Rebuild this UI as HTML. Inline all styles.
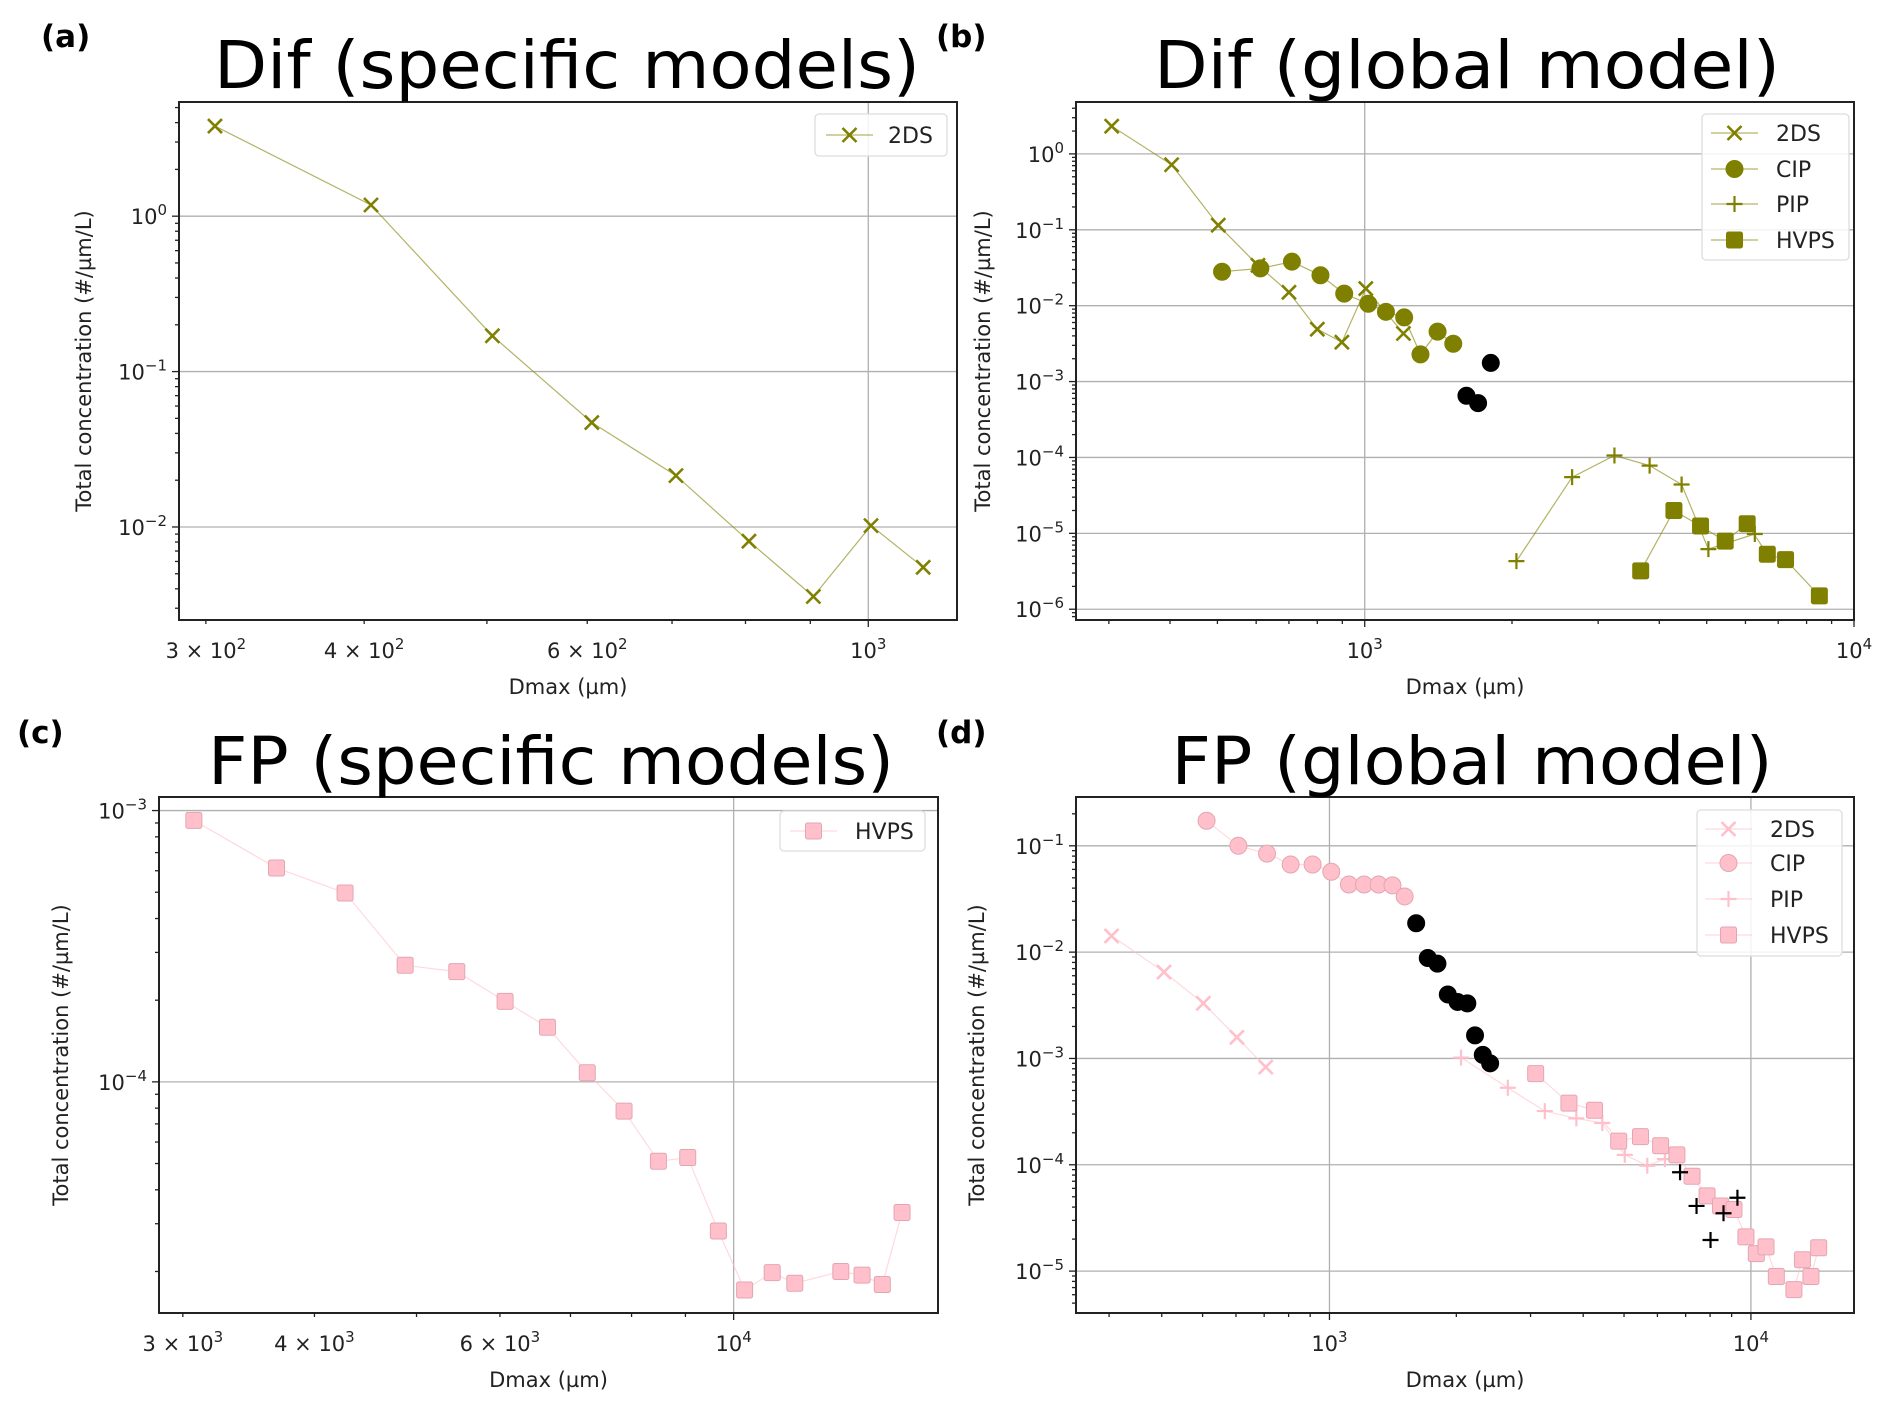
<!DOCTYPE html>
<html><head><meta charset="utf-8"><style>
html,body{margin:0;padding:0;background:#fff;}
svg{display:block;font-family:"DejaVu Sans","Liberation Sans",sans-serif;}
</style></head><body>
<svg id="fig" width="1892" height="1415" viewBox="0 0 1892 1415" xmlns="http://www.w3.org/2000/svg"></svg>
<script>
// ---- Panel (a): Dif specific, 2DS
const A_2ds_x=[305,405,505,605,705,805,905,1005,1105];
const A_2ds_y=[3.8,1.18,0.17,0.047,0.0214,0.0081,0.00357,0.0102,0.0055];
const A_xticks=[300,400,600,1000];
const A_xtickLabels=["3 × 10^2","4 × 10^2","6 × 10^2","10^3"];
const A_yticks=[1,0.1,0.01];
const A_ytickLabels=["10^0","10^−1","10^−2"];
// ---- Panel (b): Dif global
const B_2ds_x=[304,403,502,605,700,800,898,1005,1200];
const B_2ds_y=[2.32,0.72,0.115,0.034,0.015,0.0049,0.0033,0.0168,0.0043];
const B_cip_x=[511,612,710,812,908,1017,1105,1204,1300,1409,1517];
const B_cip_y=[0.028,0.031,0.038,0.0252,0.0144,0.0106,0.0083,0.0070,0.00228,0.00455,0.00315];
const B_cipOut_x=[1614,1705,1810];
const B_cipOut_y=[6.5e-4,5.2e-4,1.76e-3];
const B_pip_x=[2042,2654,3239,3822,4443,5040,6270];
const B_pip_y=[4.3e-6,5.5e-5,1.06e-4,7.8e-5,4.4e-5,6.2e-6,9.8e-6];
const B_hvps_x=[3665,4285,4857,5455,6049,6650,7246,8496];
const B_hvps_y=[3.2e-6,2.0e-5,1.25e-5,7.9e-6,1.34e-5,5.3e-6,4.5e-6,1.5e-6];
const B_xticks=[1000,10000];
const B_xtickLabels=["10^3","10^4"];
const B_yticks=[1,0.1,0.01,1e-3,1e-4,1e-5,1e-6];
const B_ytickLabels=["10^0","10^−1","10^−2","10^−3","10^−4","10^−5","10^−6"];
// ---- Panel (c): FP specific, HVPS
const C_hvps_x=[3073,3682,4277,4877,5460,6068,6657,7262,7870,8484,9045,9672,10243,10880,11430,12640,13240,13840,14450];
const C_hvps_y=[9.2e-4,6.14e-4,4.97e-4,2.69e-4,2.55e-4,1.98e-4,1.59e-4,1.08e-4,7.8e-5,5.1e-5,5.26e-5,2.82e-5,1.71e-5,1.98e-5,1.81e-5,2.0e-5,1.94e-5,1.79e-5,3.3e-5];
const C_xticks=[3000,4000,6000,10000];
const C_xtickLabels=["3 × 10^3","4 × 10^3","6 × 10^3","10^4"];
const C_yticks=[1e-3,1e-4];
const C_ytickLabels=["10^−3","10^−4"];
// ---- Panel (d): FP global
const D_2ds_x=[304,405,502,603,706];
const D_2ds_y=[0.0142,0.0065,0.0033,0.00158,8.3e-4];
const D_cip_x=[511,608,711,809,912,1010,1112,1208,1308,1411,1508];
const D_cip_y=[0.172,0.1,0.0845,0.0667,0.0667,0.057,0.0433,0.0433,0.0433,0.0424,0.0334];
const D_cipOut_x=[1606,1711,1804,1909,2014,2124,2215,2311,2406];
const D_cipOut_y=[0.0187,0.0088,0.0078,0.0040,0.0034,0.0033,0.00165,0.00108,9.0e-4];
const D_pip_x=[2052,2650,3243,3853,4440,5020,5677,6250];
const D_pip_y=[1.02e-3,5.3e-4,3.2e-4,2.73e-4,2.47e-4,1.24e-4,9.8e-5,1.13e-4];
const D_pipOut_x=[6790,7430,8020,8610,9290];
const D_pipOut_y=[8.5e-5,4.1e-5,1.96e-5,3.5e-5,4.9e-5];
const D_hvps_x=[3085,3700,4254,4856,5470,6105,6675,7250,7870,8470,9116,9732,10300,10860,11490,12650,13250,13880,14480];
const D_hvps_y=[7.2e-4,3.8e-4,3.26e-4,1.67e-4,1.84e-4,1.51e-4,1.24e-4,7.8e-5,5.1e-5,4.1e-5,3.8e-5,2.1e-5,1.46e-5,1.69e-5,8.9e-6,6.7e-6,1.28e-5,8.9e-6,1.66e-5];
const D_xticks=[1000,10000];
const D_xtickLabels=["10^3","10^4"];
const D_yticks=[0.1,0.01,1e-3,1e-4,1e-5];
const D_ytickLabels=["10^−1","10^−2","10^−3","10^−4","10^−5"];

const NS="http://www.w3.org/2000/svg";
const svg=document.getElementById('fig');
const OLIVE="#808000", PINK="#ffc0cb", PINKEDGE="#e3a6b1";

function mk(tag,attrs,parent){const e=document.createElementNS(NS,tag);for(const k in attrs)e.setAttribute(k,attrs[k]);(parent||svg).appendChild(e);return e;}
function richText(parent,x,y,str,size,anchor){
  const t=mk('text',{x:x,y:y,'font-size':size,'text-anchor':anchor,fill:'#222'},parent);
  const parts=str.split('^');
  t.appendChild(document.createTextNode(parts[0]));
  if(parts[1]!==undefined){const s=mk('tspan',{dy:-9,'font-size':Math.round(size*0.7)},t);s.textContent=parts[1];}
  return t;
}
function marker(g,type,x,y,color,edge){
  let e;
  if(type==='x'){e=mk('path',{d:`M${x-7},${y-7}L${x+7},${y+7}M${x-7},${y+7}L${x+7},${y-7}`,stroke:color,'stroke-width':2.6,fill:'none'},g);}
  else if(type==='+'){e=mk('path',{d:`M${x-8},${y}L${x+8},${y}M${x},${y-8}L${x},${y+8}`,stroke:color,'stroke-width':2.2,fill:'none'},g);}
  else if(type==='o'){e=mk('circle',{cx:x,cy:y,r:8.5,fill:color,stroke:edge||color,'stroke-width':1},g);}
  else {e=mk('rect',{x:x-8,y:y-8,width:16,height:16,rx:2,fill:color,stroke:edge||color,'stroke-width':1},g);}
  return e;
}
function panel(cfg){
  const g=mk('g',{});
  
  
  const {L,R,T,B}=cfg;
  const lx0=Math.log10(cfg.xmin),lx1=Math.log10(cfg.xmax),ly0=Math.log10(cfg.ymin),ly1=Math.log10(cfg.ymax);
  const X=v=>L+(Math.log10(v)-lx0)/(lx1-lx0)*(R-L);
  const Y=v=>B-(Math.log10(v)-ly0)/(ly1-ly0)*(B-T);
  const grid=mk('g',{},g);
  
  
  for(let d=Math.floor(lx0);d<=Math.ceil(lx1);d++){const v=Math.pow(10,d);if(v>cfg.xmin&&v<cfg.xmax)mk('line',{x1:X(v),x2:X(v),y1:T,y2:B,stroke:'#b0b0b0','stroke-width':1.3},grid);}
  for(let d=Math.floor(ly0);d<=Math.ceil(ly1);d++){const v=Math.pow(10,d);if(v>cfg.ymin&&v<cfg.ymax)mk('line',{x1:L,x2:R,y1:Y(v),y2:Y(v),stroke:'#b0b0b0','stroke-width':1.3},grid);}
  cfg.series.forEach(s=>{
    const sg=mk('g',{},g);
    
    
    if(s.line){const pts=s.xs.map((v,i)=>X(v).toFixed(1)+','+Y(s.ys[i]).toFixed(1)).join(' ');mk('polyline',{points:pts,fill:'none',stroke:s.color,'stroke-width':1.2,'stroke-opacity':0.6},sg);}
    s.xs.forEach((v,i)=>{const m=marker(sg,s.marker,X(v),Y(s.ys[i]),s.color,s.edge);
      
      });
  });
  const ax=mk('g',{stroke:'#222','stroke-width':1.3},g);
  
  
  for(let d=Math.floor(lx0);d<=Math.ceil(lx1);d++)for(let k=1;k<10;k++){const v=k*Math.pow(10,d);if(v>=cfg.xmin&&v<=cfg.xmax){const len=k===1?7:4;mk('line',{x1:X(v),x2:X(v),y1:B,y2:B+len},ax);}}
  for(let d=Math.floor(ly0);d<=Math.ceil(ly1);d++)for(let k=1;k<10;k++){const v=k*Math.pow(10,d);if(v>=cfg.ymin&&v<=cfg.ymax){const len=k===1?7:4;mk('line',{x1:L-len,x2:L,y1:Y(v),y2:Y(v)},ax);}}
  mk('rect',{x:L,y:T,width:R-L,height:B-T,fill:'none',stroke:'#222','stroke-width':2},g);
  const xl=mk('g',{},g);
  
  
  cfg.xticks.forEach((v,i)=>richText(xl,X(v),B+38,cfg.xlabels[i],21,'middle'));
  const yl=mk('g',{},g);
  
  
  cfg.yticks.forEach((v,i)=>richText(yl,L-12,Y(v)+8,cfg.ylabels[i],21,'end'));
  const xt=mk('text',{x:(L+R)/2,y:B+74,'font-size':21,'text-anchor':'middle',fill:'#222'},g);
  xt.textContent='Dmax (µm)';
  
  
  const cy=(T+B)/2;
  const yt=mk('text',{x:cfg.ylabx,y:cy,'font-size':21,'text-anchor':'middle',fill:'#222',transform:`rotate(-90 ${cfg.ylabx} ${cy})`},g);
  yt.textContent='Total concentration (#/µm/L)';
  
  
  const tt=mk('text',{x:cfg.tx,y:cfg.ty,'font-size':66,'text-anchor':'middle',fill:'#000',textLength:cfg.tw,lengthAdjust:'spacingAndGlyphs'},g);
  tt.textContent=cfg.title;
  
  
  const pl=mk('text',{x:cfg.px,y:cfg.py,'font-size':31,'font-weight':'bold',fill:'#000'},g);
  pl.textContent=cfg.plabel;
  
  
  const lg=mk('g',{},g);
  
  
  const lb=cfg.legend;
  mk('rect',{x:lb.x,y:lb.y,width:lb.w,height:lb.h,rx:4,fill:'#fff','fill-opacity':0.85,stroke:'#ddd','stroke-width':1.3},lg);
  cfg.series.filter(s=>s.label).forEach((s,i)=>{
    const ey=lb.ey[i];
    const le=mk('g',{},lg);
    
    
    mk('line',{x1:lb.lx,x2:lb.lx+47,y1:ey,y2:ey,stroke:s.color,'stroke-width':1.2,'stroke-opacity':0.6},le);
    marker(le,s.marker,lb.lx+23.5,ey,s.color,s.edge);
    const t=mk('text',{x:lb.tx,y:ey+8,'font-size':22,fill:'#222'},le);
    t.textContent=s.label;
  });
}

panel({name:'panel-a-dif-specific',L:179,R:957,T:102,B:620,xmin:285.7,xmax:1175,ymin:0.00252,ymax:5.43,
  xticks:A_xticks,xlabels:A_xtickLabels,yticks:A_yticks,ylabels:A_ytickLabels,ylabx:91,
  title:'Dif (specific models)',tx:567,ty:88,tw:706,plabel:'(a)',px:41,py:47,
  legend:{x:815,y:114,w:132,h:42,lx:826,tx:888,ey:[135]},
  series:[{id:'series-2ds',label:'2DS',xs:A_2ds_x,ys:A_2ds_y,marker:'x',color:OLIVE,line:true}]});

panel({name:'panel-b-dif-global',L:1076,R:1854,T:102,B:620,xmin:257,xmax:10000,ymin:Math.pow(10,-6.142),ymax:Math.pow(10,0.684),
  xticks:B_xticks,xlabels:B_xtickLabels,yticks:B_yticks,ylabels:B_ytickLabels,ylabx:990,
  title:'Dif (global model)',tx:1467,ty:88,tw:626,plabel:'(b)',px:936,py:47,
  legend:{x:1702,y:114,w:147,h:146,lx:1711,tx:1776,ey:[133,169,204,240]},
  series:[{id:'series-2ds',label:'2DS',xs:B_2ds_x,ys:B_2ds_y,marker:'x',color:OLIVE,line:true},
          {id:'series-cip',label:'CIP',xs:B_cip_x,ys:B_cip_y,marker:'o',color:OLIVE,line:true},
          {id:'series-pip',label:'PIP',xs:B_pip_x,ys:B_pip_y,marker:'+',color:OLIVE,line:true},
          {id:'series-hvps',label:'HVPS',xs:B_hvps_x,ys:B_hvps_y,marker:'s',color:OLIVE,line:true},
          {id:'cip-outliers',xs:B_cipOut_x,ys:B_cipOut_y,marker:'o',color:'#000',line:false}]});

panel({name:'panel-c-fp-specific',L:159,R:938,T:797,B:1313,xmin:Math.pow(10,3.4545),xmax:Math.pow(10,4.194),ymin:Math.pow(10,-4.852),ymax:Math.pow(10,-2.95),
  xticks:C_xticks,xlabels:C_xtickLabels,yticks:C_yticks,ylabels:C_ytickLabels,ylabx:68,
  title:'FP (specific models)',tx:551,ty:784,tw:686,plabel:'(c)',px:17,py:743,
  legend:{x:780,y:811,w:145,h:40,lx:790,tx:855,ey:[831]},
  series:[{id:'series-hvps',label:'HVPS',xs:C_hvps_x,ys:C_hvps_y,marker:'s',color:PINK,edge:PINKEDGE,line:true}]});

panel({name:'panel-d-fp-global',L:1076,R:1854,T:797,B:1313,xmin:Math.pow(10,2.3986),xmax:Math.pow(10,4.2446),ymin:Math.pow(10,-5.394),ymax:Math.pow(10,-0.541),
  xticks:D_xticks,xlabels:D_xtickLabels,yticks:D_yticks,ylabels:D_ytickLabels,ylabx:984,
  title:'FP (global model)',tx:1472,ty:784,tw:601,plabel:'(d)',px:936,py:743,
  legend:{x:1697,y:810,w:145,h:146,lx:1705,tx:1770,ey:[829,863,899,935]},
  series:[{id:'series-2ds',label:'2DS',xs:D_2ds_x,ys:D_2ds_y,marker:'x',color:PINK,edge:PINKEDGE,line:true},
          {id:'series-cip',label:'CIP',xs:D_cip_x,ys:D_cip_y,marker:'o',color:PINK,edge:PINKEDGE,line:true},
          {id:'series-pip',label:'PIP',xs:D_pip_x,ys:D_pip_y,marker:'+',color:PINK,edge:PINKEDGE,line:true},
          {id:'series-hvps',label:'HVPS',xs:D_hvps_x,ys:D_hvps_y,marker:'s',color:PINK,edge:PINKEDGE,line:true},
          {id:'cip-outliers',xs:D_cipOut_x,ys:D_cipOut_y,marker:'o',color:'#000',line:false},
          {id:'pip-outliers',xs:D_pipOut_x,ys:D_pipOut_y,marker:'+',color:'#000',line:false}]});
</script>
</body></html>
